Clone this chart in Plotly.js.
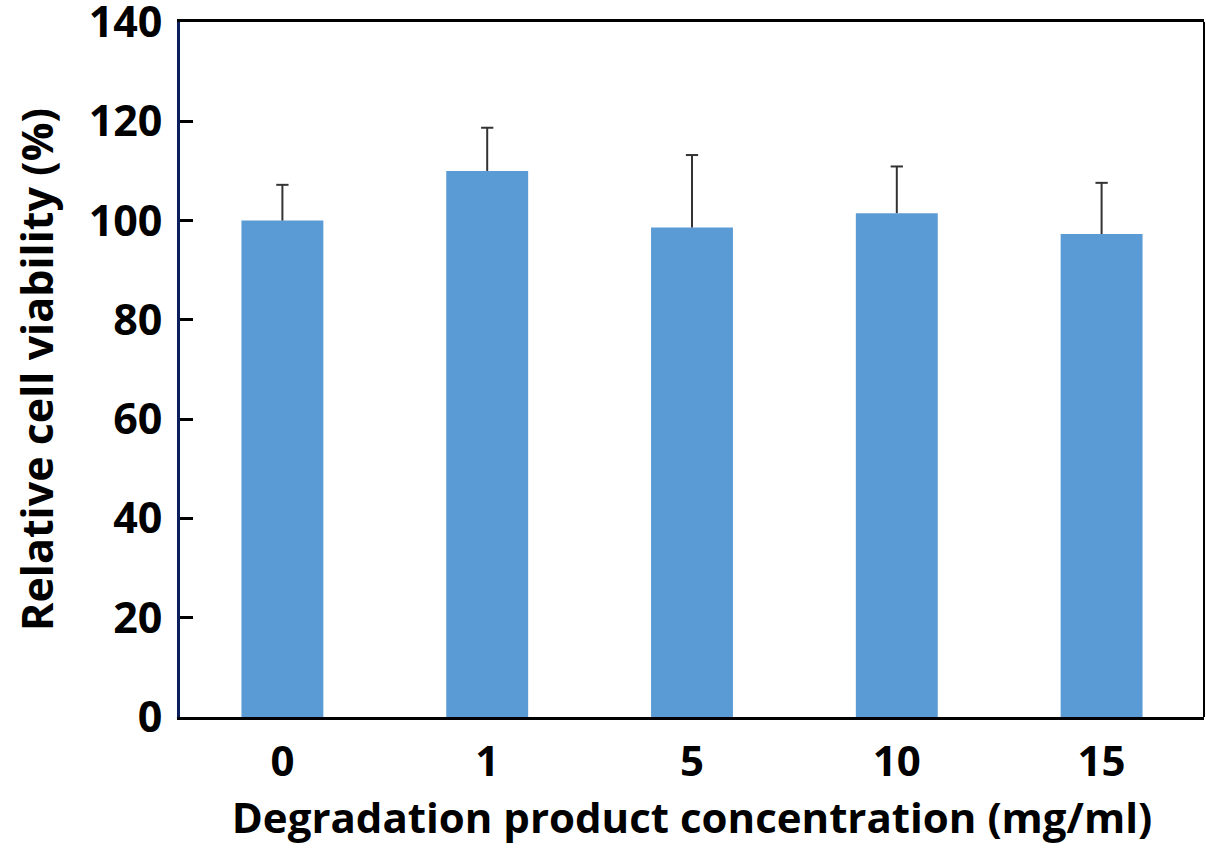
<!DOCTYPE html>
<html>
<head>
<meta charset="utf-8">
<script src="https://cdn.plot.ly/plotly-3.0.1.min.js"></script>
<style>
  html, body { margin: 0; padding: 0; background: #fff; }
  #chart { width: 1206px; height: 854px; }
</style>
</head>
<body>
<div id="chart"></div>
<script>
// Concentration groups (mg/ml)
const concentrations = ['0', '1', '5', '10', '15'];
// Mean relative cell viability (%)
const viability = [100.0, 110.0, 98.6, 101.5, 97.3];
// Upper error (SD, %)
const errorUp = [7.2, 8.7, 14.6, 9.4, 10.3];
// Y axis ticks
const yTicks = [0, 20, 40, 60, 80, 100, 120, 140];

const FONT = '"Open Sans", "Noto Sans", sans-serif';

const trace = {
  type: 'bar',
  x: concentrations,
  y: viability,
  width: 0.4,
  marker: { color: '#5b9bd5', line: { width: 0 } },
  hoverinfo: 'skip'
};

// One-sided (upper) error bars: a stem from the bar top plus a cap,
// placed on the category axis by index.
const CAP_HALF = 0.03;
const ERR_STYLE = { color: '#333333', width: 2 };
const errorShapes = [];
concentrations.forEach((c, i) => {
  const top = viability[i] + errorUp[i];
  errorShapes.push({
    type: 'line', xref: 'x', yref: 'y', layer: 'above',
    x0: i, x1: i, y0: viability[i], y1: top,
    line: ERR_STYLE
  });
  errorShapes.push({
    type: 'line', xref: 'x', yref: 'y', layer: 'above',
    x0: i - CAP_HALF, x1: i + CAP_HALF, y0: top, y1: top,
    line: ERR_STYLE
  });
});

const layout = {
  width: 1206,
  height: 854,
  margin: { l: 180, r: 2, t: 22, b: 137 },
  paper_bgcolor: '#ffffff',
  plot_bgcolor: '#ffffff',
  showlegend: false,
  font: { family: FONT, color: '#000000' },
  xaxis: {
    type: 'category',
    range: [-0.5, 4.5],
    showline: true,
    linecolor: '#000000',
    linewidth: 3,
    mirror: true,
    ticks: '',
    showgrid: false,
    zeroline: false,
    tickfont: { family: FONT, size: 42, weight: 700, color: '#000' },
    ticklabelstandoff: 6,
    title: {
      text: 'Degradation product concentration (mg/ml)',
      font: { family: FONT, size: 42, weight: 700, color: '#000' },
      standoff: 12
    }
  },
  yaxis: {
    range: [0, 140],
    tickvals: yTicks,
    ticktext: yTicks.map(String),
    showline: true,
    linecolor: '#0a1f5c',
    linewidth: 3,
    ticks: 'inside',
    ticklen: 13,
    tickwidth: 3,
    tickcolor: '#000000',
    showgrid: false,
    zeroline: false,
    ticklabeloverflow: 'allow',
    tickfont: { family: FONT, size: 43, weight: 700, color: '#000' },
    ticklabelstandoff: 6,
    title: {
      text: 'Relative cell viability (%)',
      font: { family: FONT, size: 43, weight: 700, color: '#000' },
      standoff: 22
    }
  },
  shapes: [
    {
      type: 'line', xref: 'paper', yref: 'paper',
      x0: 1, x1: 1, y0: 0, y1: 1,
      line: { color: '#000000', width: 2 }
    }
  ].concat(errorShapes)
};

Plotly.newPlot('chart', [trace], layout, { displayModeBar: false, staticPlot: true });
</script>
</body>
</html>
